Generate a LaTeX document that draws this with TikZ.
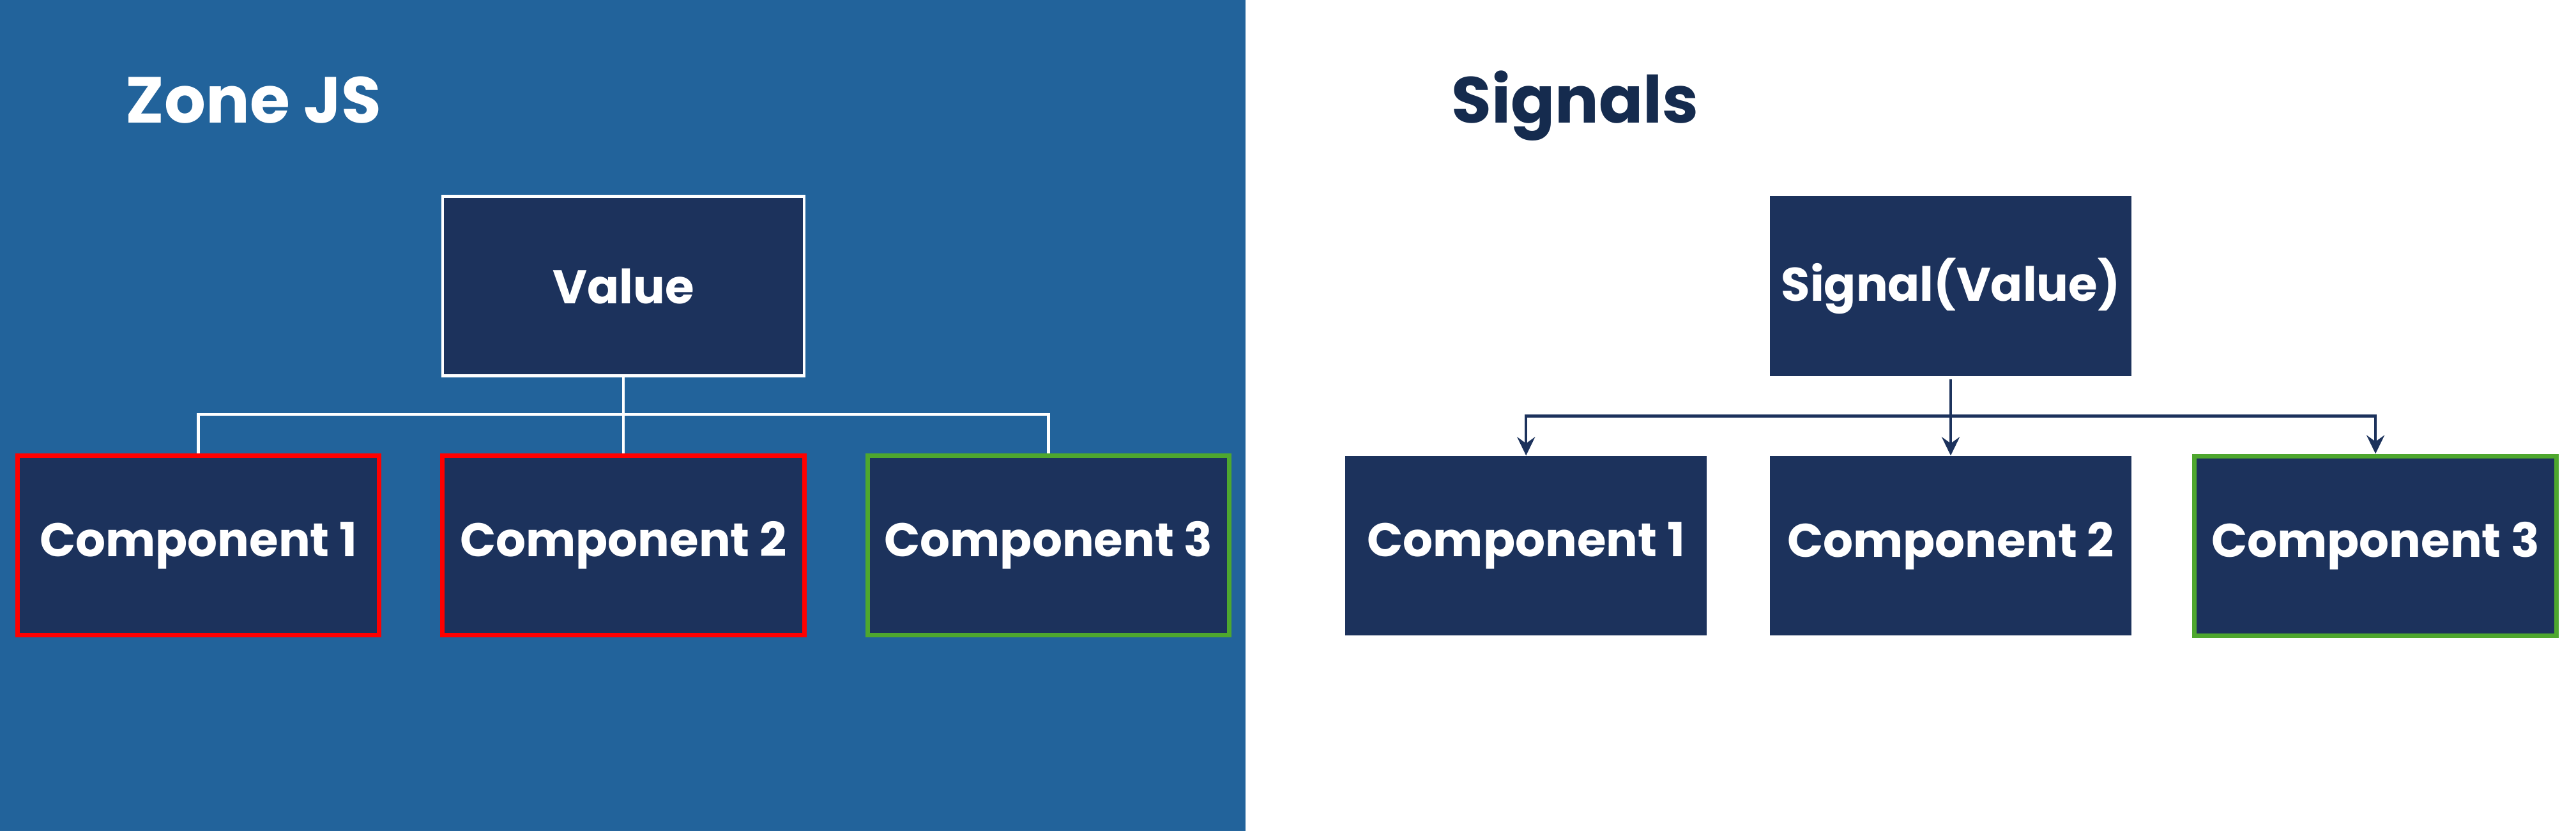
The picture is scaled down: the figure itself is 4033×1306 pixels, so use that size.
\documentclass[tikz,border=0pt]{standalone}
\usepackage{fontspec}
\newfontfamily\popfont{Poppins}
\usetikzlibrary{arrows.meta,positioning}
\definecolor{panel}{HTML}{22639B}
\definecolor{navy}{HTML}{1C325C}
\definecolor{heading}{HTML}{152B4E}
\definecolor{hotred}{HTML}{FF0000}
\definecolor{okgreen}{HTML}{4EA72E}
\tikzset{
  block/.style={fill=navy, text=white, inner sep=0pt, minimum width=5.66cm,
    minimum height=2.81cm, font=\popfont\bfseries\fontsize{21}{24}\selectfont},
  stale/.style={block, draw=hotred, line width=0.07cm},
  fresh/.style={block, draw=okgreen, line width=0.07cm},
  source/.style={block, draw=white, line width=0.045cm},
  title/.style={anchor=base west, inner sep=0pt, font=\popfont\bfseries\fontsize{29}{33}\selectfont},
  wire/.style={draw=white, line width=0.045cm},
  flow/.style={draw=navy, line width=0.045cm, -{Stealth[length=0.29cm, width=0.28cm, inset=0.1cm]}},
}

\begin{document}
\begin{tikzpicture}[x=0.01cm, y=-0.01cm]
\useasboundingbox (0,0) rectangle (4033,1306);

% Zone JS: the whole tree is checked
\fill[panel] (0,0) rectangle (1950,1301);
\node[title, text=white] (zt) at (196,192) {Zone JS};
\node[source] (val) at (976,448) {Value};
\node[stale, below=1.19cm of val] (c2) {Component 2};
\node[stale, left=0.92cm of c2] (c1) {Component 1};
\node[fresh, right=0.92cm of c2] (c3) {Component 3};
\draw[wire] (val.south) -- ++(0,58) coordinate (bus);
\draw[wire] (bus) -| (c1.north);
\draw[wire] (bus) -- (c2.north);
\draw[wire] (bus) -| (c3.north);

% Signals: only the consumers are notified
\node[title, text=heading] (st) at (2272,192) {Signals};
\node[block] (sig) at (3054,448) {Signal(Value)};
\node[block, below=1.24cm of sig] (d2) {Component 2};
\node[block, left=0.97cm of d2] (d1) {Component 1};
\node[fresh, right=0.945cm of d2] (d3) {Component 3};
\path (sig.south) ++(0,62) coordinate (hub);
\draw[flow, shorten <=0.05cm] (sig.south) -- (d2.north);
\draw[flow] (hub) -| (d1.north);
\draw[flow] (hub) -| (d3.north);

\end{tikzpicture}
\end{document}
